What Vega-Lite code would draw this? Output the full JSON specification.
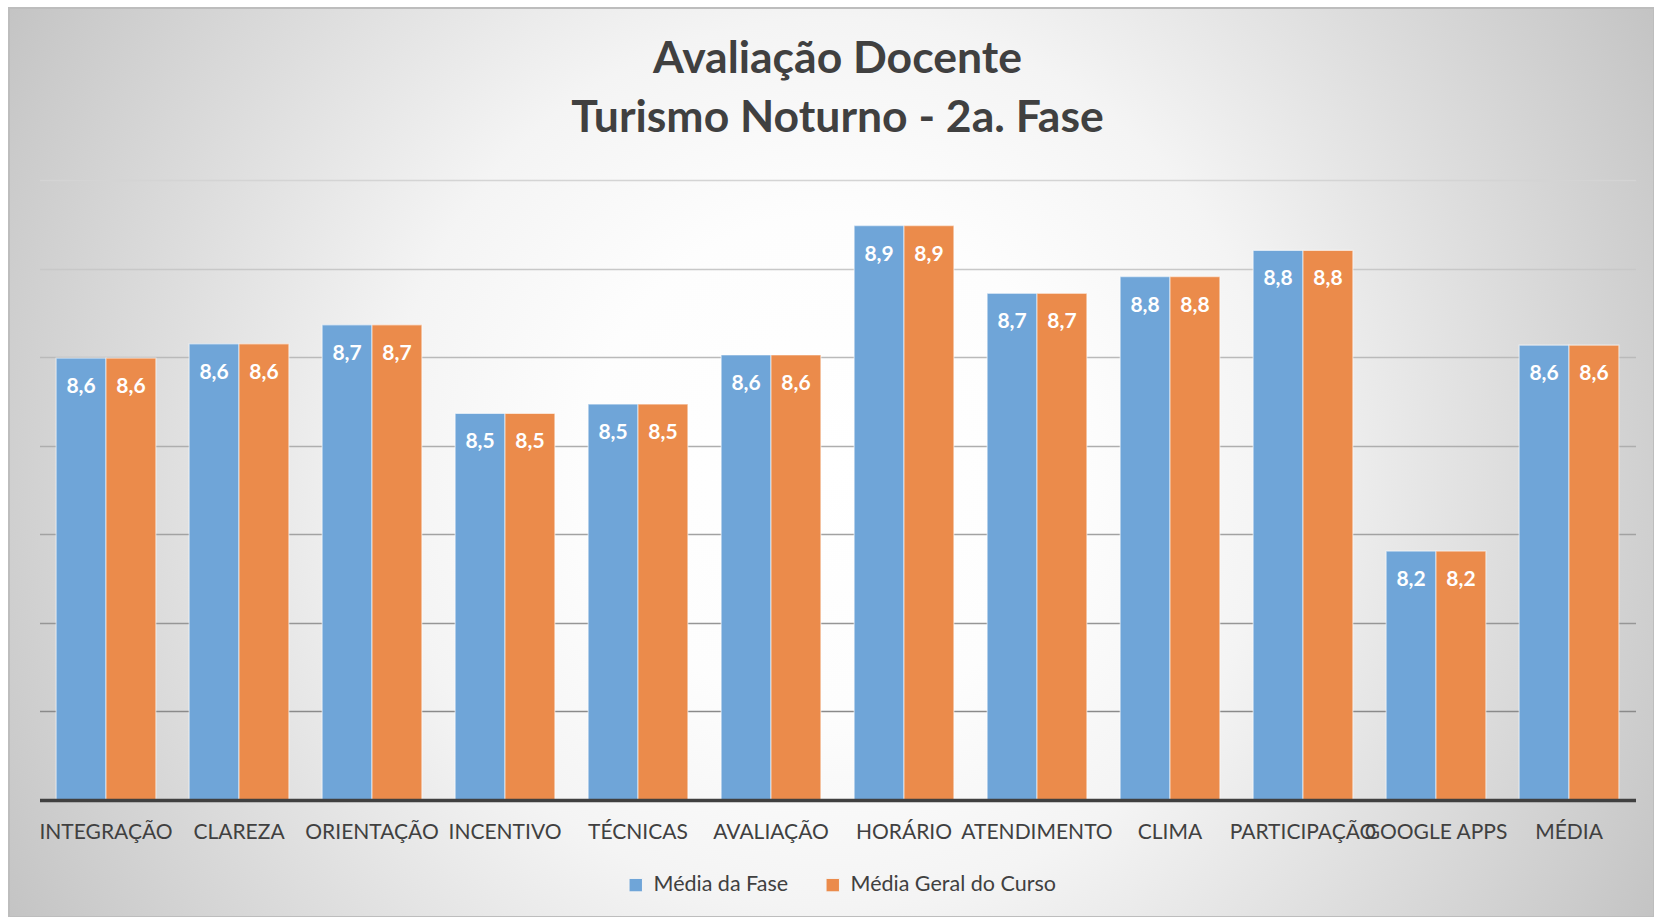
{
  "$schema": "https://vega.github.io/schema/vega-lite/v6.json",
  "width": 1645,
  "height": 909,
  "autosize": {"type": "none"},
  "padding": {"left": 9, "top": 8, "right": 0, "bottom": 0},
  "background": "#ffffff",
  "title": {
    "text": ["Avaliação Docente", "Turismo Noturno - 2a. Fase"],
    "font": "Lato",
    "fontSize": 44.5,
    "fontWeight": "bold",
    "color": "#404040",
    "lineHeight": 59,
    "anchor": "middle",
    "frame": "group",
    "baseline": "alphabetic",
    "offset": -168,
    "dx": 6
  },
  "data": {
    "values": [
      {"item": "INTEGRAÇÃO", "serie": "Média da Fase", "nota": 8.598},
      {"item": "INTEGRAÇÃO", "serie": "Média Geral do Curso", "nota": 8.598},
      {"item": "CLAREZA", "serie": "Média da Fase", "nota": 8.63},
      {"item": "CLAREZA", "serie": "Média Geral do Curso", "nota": 8.63},
      {"item": "ORIENTAÇÃO", "serie": "Média da Fase", "nota": 8.673},
      {"item": "ORIENTAÇÃO", "serie": "Média Geral do Curso", "nota": 8.673},
      {"item": "INCENTIVO", "serie": "Média da Fase", "nota": 8.473},
      {"item": "INCENTIVO", "serie": "Média Geral do Curso", "nota": 8.473},
      {"item": "TÉCNICAS", "serie": "Média da Fase", "nota": 8.494},
      {"item": "TÉCNICAS", "serie": "Média Geral do Curso", "nota": 8.494},
      {"item": "AVALIAÇÃO", "serie": "Média da Fase", "nota": 8.605},
      {"item": "AVALIAÇÃO", "serie": "Média Geral do Curso", "nota": 8.605},
      {"item": "HORÁRIO", "serie": "Média da Fase", "nota": 8.897},
      {"item": "HORÁRIO", "serie": "Média Geral do Curso", "nota": 8.897},
      {"item": "ATENDIMENTO", "serie": "Média da Fase", "nota": 8.744},
      {"item": "ATENDIMENTO", "serie": "Média Geral do Curso", "nota": 8.744},
      {"item": "CLIMA", "serie": "Média da Fase", "nota": 8.782},
      {"item": "CLIMA", "serie": "Média Geral do Curso", "nota": 8.782},
      {"item": "PARTICIPAÇÃO", "serie": "Média da Fase", "nota": 8.841},
      {"item": "PARTICIPAÇÃO", "serie": "Média Geral do Curso", "nota": 8.841},
      {"item": "GOOGLE APPS", "serie": "Média da Fase", "nota": 8.162},
      {"item": "GOOGLE APPS", "serie": "Média Geral do Curso", "nota": 8.162},
      {"item": "MÉDIA", "serie": "Média da Fase", "nota": 8.627},
      {"item": "MÉDIA", "serie": "Média Geral do Curso", "nota": 8.627}
    ]
  },
  "encoding": {
    "x": {
      "field": "item",
      "type": "nominal",
      "sort": null,
      "scale": {"range": [30.5, 1626.5], "paddingInner": 0.25, "paddingOuter": 0.125},
      "axis": {
        "title": null,
        "orient": "bottom",
        "offset": -117,
        "zindex": 1,
        "domainColor": "#404040",
        "domainWidth": 3.5,
        "ticks": false,
        "tickSize": 0,
        "labelAngle": 0,
        "labelFont": "Lato",
        "labelFontSize": 21,
        "labelColor": "#404040",
        "labelBaseline": "alphabetic",
        "labelPadding": 38,
        "labelOverlap": false,
        "labelBound": false,
        "labelLimit": 300,
        "grid": false
      }
    },
    "xOffset": {
      "field": "serie",
      "type": "nominal",
      "scale": {"domain": ["Média da Fase", "Média Geral do Curso"], "paddingInner": 0, "paddingOuter": 0}
    },
    "y": {
      "field": "nota",
      "type": "quantitative",
      "scale": {"domain": [7.6, 9.0], "range": [792, 172], "zero": false, "nice": false},
      "axis": {
        "title": null,
        "labels": false,
        "ticks": false,
        "domain": false,
        "grid": true,
        "zindex": 0,
        "values": [7.8, 8.0, 8.2, 8.4, 8.6, 8.8, 9.0],
        "gridWidth": 1.3,
        "gridColor": {
          "condition": [
            {"test": "datum.value < 7.9", "value": "#8a8a8a"},
            {"test": "datum.value < 8.1", "value": "#969696"},
            {"test": "datum.value < 8.3", "value": "#a2a2a2"},
            {"test": "datum.value < 8.5", "value": "#aeaeae"},
            {"test": "datum.value < 8.7", "value": "#bababa"},
            {"test": "datum.value < 8.9", "value": "#c8c8c8"}
          ],
          "value": "#d4d4d4"
        }
      }
    }
  },
  "layer": [
    {
      "mark": {"type": "bar", "stroke": "#ffffff", "strokeOpacity": 0.55, "strokeWidth": 1.2},
      "encoding": {
        "y2": {"datum": 7.6},
        "color": {
          "field": "serie",
          "type": "nominal",
          "scale": {"domain": ["Média da Fase", "Média Geral do Curso"], "range": ["#6FA5D8", "#EB8B4B"]},
          "legend": {
            "title": null,
            "orient": "none",
            "legendX": 616,
            "legendY": 866,
            "direction": "horizontal",
            "padding": 0,
            "columnPadding": 33,
            "labelFont": "Lato",
            "labelFontSize": 21.5,
            "labelColor": "#404040",
            "labelOffset": 7,
            "labelLimit": 500,
            "symbolType": "square",
            "symbolSize": 180,
            "symbolStrokeWidth": 1,
            "symbolStrokeColor": "#f4f4f4",
            "symbolOpacity": 1
          }
        }
      }
    },
    {
      "mark": {
        "type": "text",
        "baseline": "alphabetic",
        "dy": 35,
        "font": "Lato",
        "fontWeight": "bold",
        "fontSize": 21,
        "color": "#ffffff"
      },
      "encoding": {
        "text": {"field": "nota", "type": "quantitative", "format": ".1f"}
      }
    }
  ],
  "config": {
    "locale": {"number": {"decimal": ",", "thousands": ".", "grouping": [3], "currency": ["R$", ""]}},
    "font": "Lato",
    "view": {
      "fill": {
        "gradient": "radial",
        "x1": 0.5, "y1": 0.5, "r1": 0,
        "x2": 0.5, "y2": 0.5, "r2": 0.6,
        "stops": [
          {"offset": 0, "color": "#ffffff"},
          {"offset": 0.25, "color": "#fdfdfd"},
          {"offset": 0.45, "color": "#f4f4f4"},
          {"offset": 0.7, "color": "#dcdcdc"},
          {"offset": 0.88, "color": "#cbcbcb"},
          {"offset": 0.95, "color": "#c4c4c4"},
          {"offset": 1, "color": "#bfbfbf"}
        ]
      },
      "stroke": "#bdbdbd",
      "strokeWidth": 2
    }
  }
}
